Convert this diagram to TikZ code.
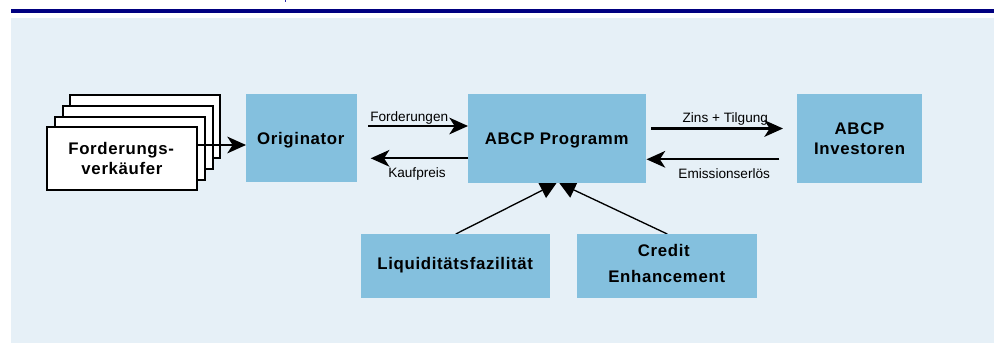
\documentclass[tikz,border=0pt]{standalone}
\usepackage{fontspec}
\setmainfont{Liberation Sans}
\newfontfamily\boxfont[LetterSpace=4]{Liberation Sans}
\usetikzlibrary{arrows.meta}
\pgfdeclarelayer{panel}
\pgfdeclarelayer{links}
\pgfsetlayers{panel,links,main}

\definecolor{panelblue}{RGB}{230,240,247}
\definecolor{boxblue}{RGB}{132,192,222}
\definecolor{barnavy}{RGB}{0,0,128}
\definecolor{tickblue}{RGB}{40,40,170}

\tikzset{
  entity/.style={fill=boxblue, draw=none, inner sep=0pt, anchor=north west},
  seller/.style={fill=white, draw=black, line width=1.5pt, inner sep=0pt,
    anchor=north west, minimum width=112.5pt, minimum height=47.25pt},
  boldtext/.style={anchor=base, inner sep=0pt,
    font=\boxfont\bfseries\fontsize{12.6}{15.2}\selectfont},
  flowtext/.style={inner sep=0pt, font=\fontsize{10.2}{12}\selectfont},
  flow/.style={line width=1.6pt, -{Stealth[length=14pt, width=12.5pt, inset=4pt]}},
  support/.style={line width=1pt, -{Triangle[length=12pt, width=12.6pt]}}
}

\begin{document}
\begin{tikzpicture}[x=0.75pt, y=-0.75pt]
  \useasboundingbox (0,0) rectangle (994,343);

  % header rule and panel
  \begin{pgfonlayer}{panel}
    \fill[tickblue] (284.6,0) rectangle (286.2,2.4);
    \fill[barnavy] (11,9) rectangle (994,13);
    \fill[panelblue] (11,18) rectangle (994,343);
  \end{pgfonlayer}

  % stacked sellers (back to front)
  \node[seller] (fv4) at (69.3,94.3) {};
  \node[seller] (fv3) at (61.7,105) {};
  \node[seller] (fv2) at (54,115.6) {};
  \node[seller] (fv1) at (46,126.2) {};
  \node[boldtext] (fvA) at (121.2,154) {Forderungs-};
  \node[boldtext] (fvB) at (122,174.3) {verkäufer};

  % main parties
  \node[entity, minimum width=83.25pt, minimum height=66pt]   (orig) at (246,94) {};
  \node[entity, minimum width=133.5pt, minimum height=66.75pt] (abcp) at (468,94) {};
  \node[entity, minimum width=93.75pt, minimum height=66.75pt] (inv)  at (797,94) {};
  \node[entity, minimum width=141.75pt, minimum height=48pt]  (liq)  at (361,234) {};
  \node[entity, minimum width=135pt, minimum height=48pt]     (ce)   at (577,234) {};

  \node[boldtext] (origT) at (300.8,144) {Originator};
  \node[boldtext] (abcpT) at (556.7,144.7) {ABCP Programm};
  \node[boldtext] (invA)  at (859.5,134.3) {ABCP};
  \node[boldtext] (invB)  at (859.5,154.7) {Investoren};
  \node[boldtext] (liqT)  at (455.2,269) {Liquiditätsfazilität};
  \node[boldtext] (ceA)   at (663.8,256) {Credit};
  \node[boldtext] (ceB)   at (666.7,282.7) {Enhancement};

  % free ends of the flows
  \coordinate (sellrow) at (0,145);
  \coordinate (fordStart) at (368.3,126);
  \coordinate (kaufEnd) at (370.7,158.3);
  \coordinate (zinsStart) at (651,128.5);
  \coordinate (zinsEnd) at (783,128.5);
  \coordinate (emisStart) at (779.3,159.3);

  % flows
  \draw[flow] (fv1.east |- sellrow) -- (orig.west |- sellrow);
  \draw[flow] (fordStart) -- (abcp.west |- fordStart);
  \draw[flow] (abcp.west |- kaufEnd) -- (kaufEnd);
  \draw[flow] (zinsStart) -- (zinsEnd);
  \draw[flow] (emisStart) -- (abcp.east |- emisStart);

  \node[flowtext, anchor=base west] (fordL) at (370,121.8) {Forderungen};
  \node[flowtext, anchor=base] (kaufL) at (417,177.3) {Kaufpreis};
  \node[flowtext, anchor=base] (zinsL) at (725.3,122.5) {Zins + Tilgung};
  \node[flowtext, anchor=base] (emisL) at (724.2,178.3) {Emissionserlös};

  % support facilities, tips tucked under the programme box
  \begin{pgfonlayer}{links}
    \draw[support] (liq.north) -- ([xshift=-0.6pt, yshift=0.3pt]abcp.south);
    \draw[support] (ce.north) -- ([xshift=1.6pt, yshift=0.3pt]abcp.south);
  \end{pgfonlayer}
\end{tikzpicture}
\end{document}
